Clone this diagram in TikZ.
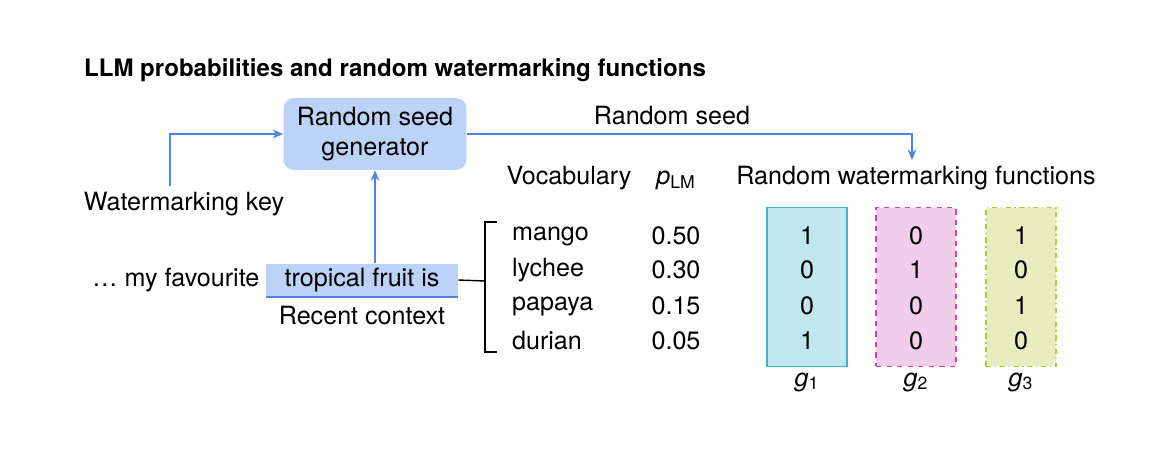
\documentclass[tikz,border=0pt]{standalone}
\usepackage{fontspec}
\setmainfont{TeX Gyre Heros}
\usetikzlibrary{positioning,arrows.meta}
\definecolor{arrblue}{HTML}{4A86E8}
\definecolor{seedfill}{HTML}{BCD3F7}
\definecolor{gonefill}{HTML}{C0E6EE}
\definecolor{gonedraw}{HTML}{45B3C6}
\definecolor{gtwofill}{HTML}{F1CDEC}
\definecolor{gtwodraw}{HTML}{D43FB6}
\definecolor{gthreefill}{HTML}{E7EDBF}
\definecolor{gthreedraw}{HTML}{B2C93E}
\tikzset{
    flow/.style={draw=arrblue, line width=0.8pt, -{Stealth[length=6pt,width=5pt]}},
    txt/.style={font=\fontsize{14.3}{17}\selectfont, inner sep=1pt},
    col/.style={minimum width=1.6cm, minimum height=3.18cm, line width=0.8pt}
}
\newcommand{\gsub}[1]{\textit{g}\textsubscript{#1}}
\begin{document}
\begin{tikzpicture}[x=0.02cm, y=-0.02cm]
    \useasboundingbox (0,0) rectangle (1156,457);
    \node[txt, font=\fontsize{13.7}{16}\selectfont\bfseries, anchor=west] (title) at (82,70) {LLM probabilities and random watermarking functions};
    \node[txt, fill=seedfill, rounded corners=6pt, minimum width=3.66cm, minimum height=1.44cm, align=center] (seed) at (375,134) {Random seed\\generator};
    \node[txt] (key) at (184,204) {Watermarking key};
    \coordinate (keytop) at (170,186);
    \draw[flow] (keytop) |- (seed.west);
    \node[txt, fill=seedfill, minimum width=3.84cm, minimum height=0.66cm] (ctx) at (362,280) {tropical fruit is};
    \draw[arrblue, line width=0.8pt] (ctx.south west) -- (ctx.south east);
    \node[txt, anchor=east] (fav) at (ctx.west) {\dots{} my favourite\,};
    \node[txt] (recent) at (362,316) {Recent context};
    \draw[flow] (seed.south |- ctx.north) -- (seed.south);
    \node[txt] (vocab) at (569,178) {Vocabulary};
    \node[txt] (plm) at (676,180) {\textit{p}\textsubscript{LM}};
    \node[txt] (rwf) at (916,178) {Random watermarking functions};
    \coordinate (drop) at (912,160);
    \draw[flow] (seed.east) -| (drop);
    \node[txt] (rs) at (672,116) {Random seed};
    % vocabulary
    \foreach \w/\p/\y in {mango/0.50/236, lychee/0.30/270, papaya/0.15/306, durian/0.05/341} {
        \node[txt, anchor=west] (w-\w) at (510,\y) {\w};
        \node[txt] (p-\w) at (676,\y) {\p};
    }
    \coordinate (brtop) at (497,222);
    \coordinate (brbot) at (497,352);
    \coordinate (brmid) at (485,281);
    \draw[line width=0.8pt] (brtop) -- (485,222) -- (485,352) -- (brbot);
    \draw[line width=0.8pt] (ctx.east) -- (brmid);
    % functions
    \node[col, fill=gonefill, draw=gonedraw] (g1) at (807,287) {};
    \node[col, fill=gtwofill, draw=gtwodraw, dashed] (g2) at (916,287) {};
    \node[col, fill=gthreefill, draw=gthreedraw, dash dot, minimum width=1.4cm] (g3) at (1021,287) {};
    \foreach \a/\b/\c/\y in {1/0/1/236, 0/1/0/270, 0/0/1/306, 1/0/0/341} {
        \node[txt] at (807,\y) {\a};
        \node[txt] at (916,\y) {\b};
        \node[txt] at (1021,\y) {\c};
    }
    \node[txt] (l1) at (807,382) {\gsub{1}};
    \node[txt] (l2) at (916,382) {\gsub{2}};
    \node[txt] (l3) at (1021,382) {\gsub{3}};
\end{tikzpicture}
\end{document}
